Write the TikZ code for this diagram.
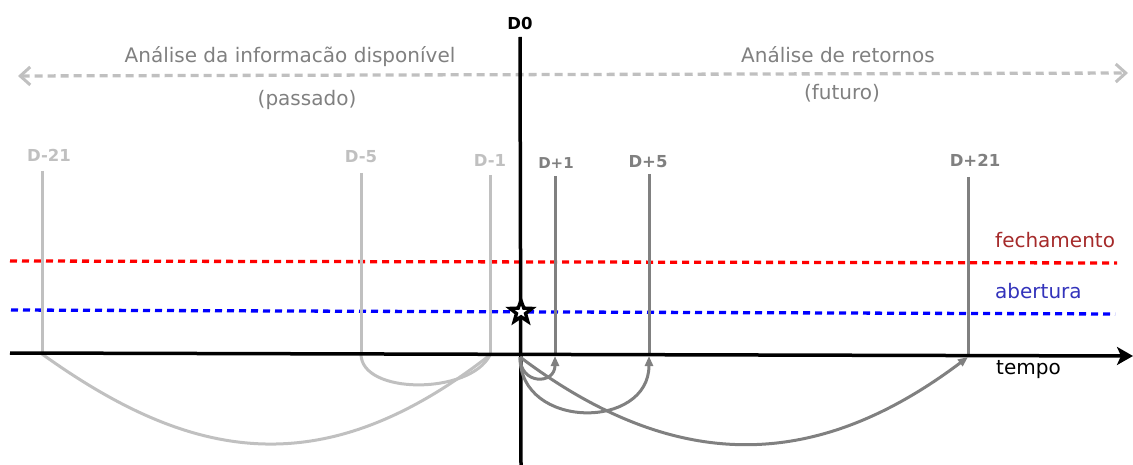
\documentclass[tikz,border=0pt]{standalone}
\usepackage{fontspec}
\setmainfont{DejaVu Sans}
\usetikzlibrary{arrows.meta,shapes.geometric}
\definecolor{lgray}{HTML}{C0C0C0}
\definecolor{dgray}{HTML}{808080}
\definecolor{fechc}{HTML}{A52A2A}
\definecolor{aberc}{HTML}{3333BB}
\tikzset{
  big/.style={font=\fontsize{20}{24}\selectfont, text=dgray, inner sep=0pt},
  lbl/.style={font=\fontsize{16.5}{20}\selectfont\bfseries, inner sep=0pt},
  pastline/.style={draw=lgray, line width=3pt},
  futline/.style={draw=dgray, line width=3pt},
  futarc/.style={draw=dgray, line width=3pt, -{Triangle[length=10pt,width=8pt]}},
  pastarc/.style={draw=lgray, line width=3pt},
  lvl/.style={line width=3.3pt, dash pattern=on 7pt off 5pt},
}
\begin{document}
\begin{tikzpicture}[x=1pt,y=-1pt]
\useasboundingbox (0,0) rectangle (1133,465);
% text labels
\node[lbl, text=black] (d0) at (520,23) {D0};
\node[big] (passA) at (290,57) {Análise da informacão disponível};
\node[big] (passB) at (307,100) {(passado)};
\node[big] (futA) at (838,55) {Análise de retornos};
\node[big] (futB) at (842,93) {(futuro)};
\node[lbl, text=lgray] (lm21) at (49,155) {D-21};
\node[lbl, text=lgray] (lm5) at (361,157) {D-5};
\node[lbl, text=lgray] (lm1) at (490,160) {D-1};
\node[lbl, text=dgray, font=\fontsize{15}{18}\selectfont\bfseries] (lp1) at (556,163) {D+1};
\node[lbl, text=dgray] (lp5) at (648,162) {D+5};
\node[lbl, text=dgray] (lp21) at (975,160) {D+21};
\node[big, text=fechc, anchor=west] (fech) at (995,240) {fechamento};
\node[big, text=aberc, anchor=west] (aber) at (995,291) {abertura};
\node[big, text=black, anchor=west] (tempo) at (996,370) {tempo};
% coordinates
\coordinate (arL) at (18,76);
\coordinate (arR) at (1128,73);
\coordinate (axL) at (10,353);
\coordinate (axR) at (1133,356);
\coordinate (vT) at (520,37);
\coordinate (vB) at (521,465);
\coordinate (rL) at (10,261);
\coordinate (rR) at (1117,263);
\coordinate (bL) at (11,310);
\coordinate (bR) at (1115,314);
\coordinate (tm21) at (42,171);  \coordinate (bm21) at (42,354);
\coordinate (tm5) at (361,173);  \coordinate (bm5) at (361,354);
\coordinate (tm1) at (490,175);  \coordinate (bm1) at (490,355);
\coordinate (tp1) at (555,176);  \coordinate (bp1) at (555,356);
\coordinate (tp5) at (649,174);  \coordinate (bp5) at (649,356);
\coordinate (tp21) at (968,177); \coordinate (bp21) at (968,357);
\coordinate (o) at (520,357);
% dashed analysis arrow
\draw[lgray, line width=3.3pt, dash pattern=on 8pt off 5pt,
  {Straight Barb[length=10pt,width=18pt,line width=3pt]}-{Straight Barb[length=10pt,width=18pt,line width=3pt]}] (arL) -- (arR);
% level lines
\draw[lvl, red] (rL) -- (rR);
\draw[lvl, blue] (bL) -- (bR);
% ticks
\draw[pastline] (tm21) -- (bm21);
\draw[pastline] (tm5) -- (bm5);
\draw[pastline] (tm1) -- (bm1);
\draw[futline] (tp1) -- (bp1);
\draw[futline] (tp5) -- (bp5);
\draw[futline] (tp21) -- (bp21);
% past arcs
\draw[pastarc] (bm21) .. controls (190,460) and (321,487) .. (bm1);
\draw[pastarc] (bm5) .. controls (361,395) and (470,395) .. (bm1);
% axes
\draw[line width=3.5pt, -{Stealth[length=16pt,width=18pt,inset=4pt]}] (axL) -- (axR);
\draw[line width=3.5pt] (vT) -- (vB);
% future arcs
\draw[futarc] (o) .. controls (520,385) and (555,385) .. (bp1);
\draw[futarc] (o) .. controls (520,430) and (649,430) .. (bp5);
\draw[futarc] (o) .. controls (674,473) and (814,473) .. (bp21);
% star
\node[star, star points=5, star point ratio=2.4, draw=black, fill=white, line width=3.4pt, minimum size=23pt, inner sep=0pt] (st) at (521,312) {};
\end{tikzpicture}
\end{document}
